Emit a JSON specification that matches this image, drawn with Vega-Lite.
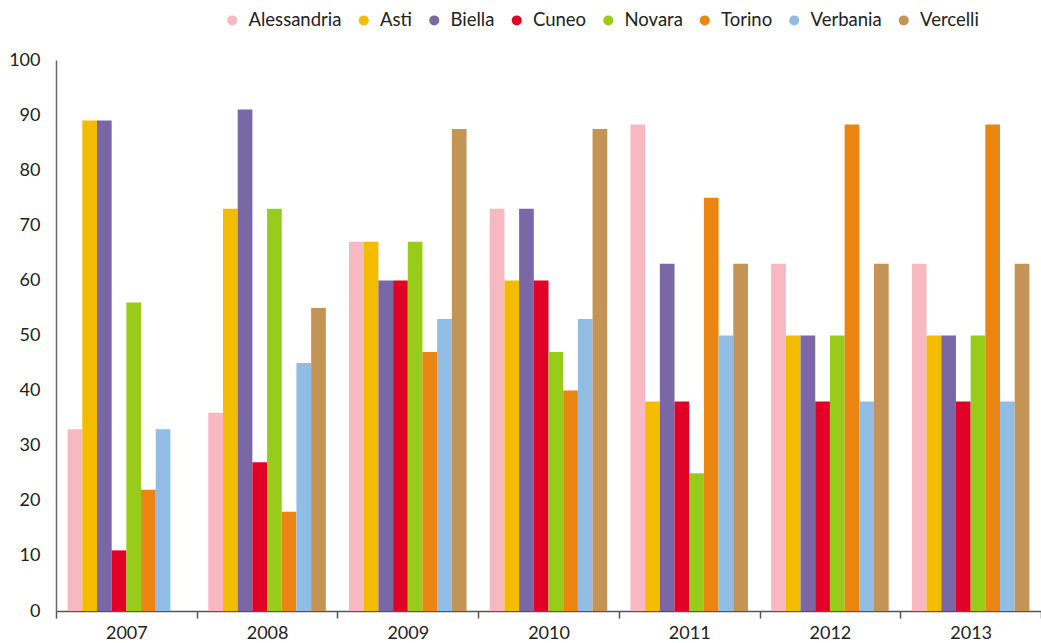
{
  "$schema": "https://vega.github.io/schema/vega-lite/v6.json",
  "width": 985,
  "height": 551,
  "autosize": {"type": "none"},
  "padding": {"left": 56, "top": 60, "right": 0, "bottom": 32},
  "background": "white",
  "config": {"view": {"stroke": null}, "font": "Lato"},
  "data": {"values": [
    {"anno": "2007", "provincia": "Alessandria", "valore": 33},
    {"anno": "2007", "provincia": "Asti", "valore": 89},
    {"anno": "2007", "provincia": "Biella", "valore": 89},
    {"anno": "2007", "provincia": "Cuneo", "valore": 11},
    {"anno": "2007", "provincia": "Novara", "valore": 56},
    {"anno": "2007", "provincia": "Torino", "valore": 22},
    {"anno": "2007", "provincia": "Verbania", "valore": 33},
    {"anno": "2008", "provincia": "Alessandria", "valore": 36},
    {"anno": "2008", "provincia": "Asti", "valore": 73},
    {"anno": "2008", "provincia": "Biella", "valore": 91},
    {"anno": "2008", "provincia": "Cuneo", "valore": 27},
    {"anno": "2008", "provincia": "Novara", "valore": 73},
    {"anno": "2008", "provincia": "Torino", "valore": 18},
    {"anno": "2008", "provincia": "Verbania", "valore": 45},
    {"anno": "2008", "provincia": "Vercelli", "valore": 55},
    {"anno": "2009", "provincia": "Alessandria", "valore": 67},
    {"anno": "2009", "provincia": "Asti", "valore": 67},
    {"anno": "2009", "provincia": "Biella", "valore": 60},
    {"anno": "2009", "provincia": "Cuneo", "valore": 60},
    {"anno": "2009", "provincia": "Novara", "valore": 67},
    {"anno": "2009", "provincia": "Torino", "valore": 47},
    {"anno": "2009", "provincia": "Verbania", "valore": 53},
    {"anno": "2009", "provincia": "Vercelli", "valore": 87.5},
    {"anno": "2010", "provincia": "Alessandria", "valore": 73},
    {"anno": "2010", "provincia": "Asti", "valore": 60},
    {"anno": "2010", "provincia": "Biella", "valore": 73},
    {"anno": "2010", "provincia": "Cuneo", "valore": 60},
    {"anno": "2010", "provincia": "Novara", "valore": 47},
    {"anno": "2010", "provincia": "Torino", "valore": 40},
    {"anno": "2010", "provincia": "Verbania", "valore": 53},
    {"anno": "2010", "provincia": "Vercelli", "valore": 87.5},
    {"anno": "2011", "provincia": "Alessandria", "valore": 88.3},
    {"anno": "2011", "provincia": "Asti", "valore": 38},
    {"anno": "2011", "provincia": "Biella", "valore": 63},
    {"anno": "2011", "provincia": "Cuneo", "valore": 38},
    {"anno": "2011", "provincia": "Novara", "valore": 25},
    {"anno": "2011", "provincia": "Torino", "valore": 75},
    {"anno": "2011", "provincia": "Verbania", "valore": 50},
    {"anno": "2011", "provincia": "Vercelli", "valore": 63},
    {"anno": "2012", "provincia": "Alessandria", "valore": 63},
    {"anno": "2012", "provincia": "Asti", "valore": 50},
    {"anno": "2012", "provincia": "Biella", "valore": 50},
    {"anno": "2012", "provincia": "Cuneo", "valore": 38},
    {"anno": "2012", "provincia": "Novara", "valore": 50},
    {"anno": "2012", "provincia": "Torino", "valore": 88.3},
    {"anno": "2012", "provincia": "Verbania", "valore": 38},
    {"anno": "2012", "provincia": "Vercelli", "valore": 63},
    {"anno": "2013", "provincia": "Alessandria", "valore": 63},
    {"anno": "2013", "provincia": "Asti", "valore": 50},
    {"anno": "2013", "provincia": "Biella", "valore": 50},
    {"anno": "2013", "provincia": "Cuneo", "valore": 38},
    {"anno": "2013", "provincia": "Novara", "valore": 50},
    {"anno": "2013", "provincia": "Torino", "valore": 88.3},
    {"anno": "2013", "provincia": "Verbania", "valore": 38},
    {"anno": "2013", "provincia": "Vercelli", "valore": 63}
  ]},
  "mark": {"type": "bar"},
  "encoding": {
    "x": {
      "field": "anno", "type": "nominal",
      "scale": {"paddingInner": 0, "paddingOuter": 0},
      "axis": {"title": null, "labelAngle": 0, "tickBand": "extent", "grid": false,
        "domainColor": "#555", "domainWidth": 1.5, "tickColor": "#555", "tickWidth": 1.5, "tickSize": 7,
        "labelFontSize": 18, "labelColor": "#222", "labelPadding": 6}
    },
    "xOffset": {
      "field": "provincia", "type": "nominal",
      "scale": {"paddingInner": 0, "paddingOuter": 0.79}
    },
    "y": {
      "field": "valore", "type": "quantitative",
      "scale": {"domain": [0, 100], "nice": false},
      "axis": {"title": null, "values": [0, 10, 20, 30, 40, 50, 60, 70, 80, 90, 100], "grid": false, "ticks": false,
        "labelPadding": 16, "domainColor": "#666", "domainWidth": 1.5,
        "labelFontSize": 18, "labelColor": "#222"}
    },
    "color": {
      "field": "provincia", "type": "nominal",
      "scale": {
        "domain": ["Alessandria", "Asti", "Biella", "Cuneo", "Novara", "Torino", "Verbania", "Vercelli"],
        "range": ["#F7B8C2", "#F4BC00", "#7A67A6", "#E10026", "#99CC1A", "#EB8511", "#91BDE5", "#C49356"]
      },
      "legend": {
        "title": null, "orient": "none", "direction": "horizontal", "columns": 8,
        "legendX": 167, "legendY": -49,
        "symbolType": "circle", "symbolSize": 100, "symbolStrokeWidth": 0,
        "labelFontSize": 18.5, "labelColor": "#222", "labelOffset": 7, "columnPadding": 12.5
      }
    }
  }
}
